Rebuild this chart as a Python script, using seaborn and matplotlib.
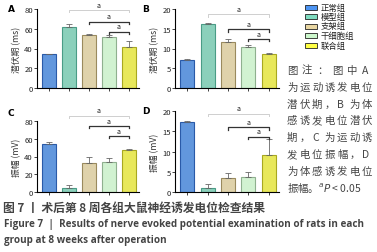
import numpy as np
import pandas as pd
import matplotlib
matplotlib.use("Agg")
import matplotlib.pyplot as plt
import seaborn as sns

groups = ["正常组", "模型组", "支架组", "干细胞组", "联合组"]
colors = ["#4d94f2", "#7fdcc0", "#e8d6a2", "#ccf7cc", "#ffff44"]
edges = ["#2a5aa8", "#4a9c86", "#9a8a5e", "#8fb08f", "#a8a820"]

lat_motor = [34, 62, 54, 52, 42]
lat_motor_err = [0.8, 2.5, 0.6, 1.2, 6]
lat_sens = [7.2, 16.1, 11.7, 10.4, 8.5]
lat_sens_err = [0.2, 0.4, 0.6, 0.4, 0.3]
amp_motor = [54, 5, 33, 34, 47]
amp_motor_err = [2, 3, 7, 4, 2]
amp_sens = [17.4, 1.0, 3.5, 3.7, 9.2]
amp_sens_err = [0.2, 1.0, 1.2, 1.3, 3.8]

panels = ["A", "B", "C", "D"]
ylabels = ["潜伏期 (ms)", "潜伏期 (ms)", "振幅 (mV)", "振幅 (mV)"]
ymax = [80, 20, 80, 20]
yticks = [[0, 20, 40, 60, 80], [0, 5, 10, 15, 20], [0, 20, 40, 60, 80], [0, 5, 10, 15, 20]]
values = [lat_motor, lat_sens, amp_motor, amp_sens]
errors = [lat_motor_err, lat_sens_err, amp_motor_err, amp_sens_err]
# bracket heights (top, middle, lower)
brackets = [[79, 67, 57], [18.7, 14.9, 12.4], [86, 74, 63], [19.3, 16, 13.7]]

plt.rcParams["font.family"] = ["Noto Sans CJK SC", "DejaVu Sans"]

W, H = 377, 253
fig = plt.figure(figsize=(W / 100, H / 100), dpi=100)

# pixel boxes: left, top, right, bottom
boxes = [(37, 10, 139, 89), (175, 10, 279, 89), (37, 122, 139, 193), (175, 112, 279, 193)]
letter_pos = [(8, 9), (142, 9), (8, 114), (142, 112)]

for i in range(4):
    l, t, r, b = boxes[i]
    ax = fig.add_axes([l / W, 1 - b / H, (r - l) / W, (b - t) / H])
    df = pd.DataFrame({"group": groups, "value": values[i]})
    sns.barplot(ax=ax, data=df, x="group", y="value", hue="group", palette=colors,
                width=0.68, errorbar=None, legend=False, linewidth=0.8)
    for p, ec in zip(ax.patches, edges):
        p.set_edgecolor(ec)
    ax.errorbar(range(5), values[i], yerr=[np.zeros(5), errors[i]], fmt="none",
                ecolor="#666666", elinewidth=0.6, capsize=2, capthick=0.6)
    ax.set_ylim(0, ymax[i])
    ax.set_xlim(-0.6, 4.5)
    ax.set_yticks(yticks[i])
    ax.set_xticks(range(5))
    ax.set_xticklabels([])
    ax.tick_params(axis="y", labelsize=5.5, length=2, width=0.6, pad=1, colors="#222222")
    ax.tick_params(axis="x", length=2, width=0.6, colors="#222222")
    ax.set_ylabel(ylabels[i], fontsize=6.3, labelpad=2, color="#333333")
    ax.set_xlabel("")
    for s in ["top", "right"]:
        ax.spines[s].set_visible(False)
    for s in ["left", "bottom"]:
        ax.spines[s].set_linewidth(0.8)
    ax.patch.set_alpha(0)

    # significance brackets
    h1, h2, h3 = brackets[i]
    dh = ymax[i] * 0.03
    for (x0, x1, y, col, lw) in [(1, 4, h1, "#cfcfcf", 0.7), (2, 4, h2, "#333333", 0.9),
                                 (3, 4, h3, "#333333", 0.9)]:
        ax.plot([x0, x0, x1, x1], [y - dh, y, y, y - dh], color=col, lw=lw, clip_on=False)
        ax.text((x0 + x1) / 2, y + dh * 0.6, "a", ha="center", va="bottom", fontsize=5,
                color="#222222", clip_on=False)

    fig.text(letter_pos[i][0] / W, 1 - letter_pos[i][1] / H, panels[i], fontsize=6.5,
             fontweight="bold", va="center", ha="left", family="DejaVu Sans")

# legend
for k in range(5):
    y = 8 + k * 9.5
    fig.patches.append(plt.Rectangle((305 / W, 1 - (y + 2.5) / H), 12 / W, 5 / H,
                                     transform=fig.transFigure, facecolor=colors[k],
                                     edgecolor="#222222", linewidth=0.6))
    fig.text(321 / W, 1 - y / H, groups[k], fontsize=6, va="center", ha="left", color="#222222")

# note text, justified between x=287 and x=372
note_lines = ["图 注： 图 中 A", "为运动诱发电位", "潜 伏 期， B 为 体", "感诱发电位潜伏",
              "期， C 为运动诱", "发 电 位 振 幅， D", "为体感诱发电位"]
for k, line in enumerate(note_lines):
    toks = list(line.replace(" ", ""))
    n = len(toks)
    y = 1 - (71 + k * 16.8) / H
    for j, ch in enumerate(toks):
        x = 287 + j * (85 - 10) / (n - 1)
        fig.text(x / W, y, ch, fontsize=7.5, va="center", ha="left", color="#444444")
fig.text(287 / W, 1 - (71 + 7 * 16.8) / H, "振幅。$^{a}$$P$ < 0.05", fontsize=7.5,
         va="center", ha="left", color="#444444")

fig.text(3 / W, 1 - 208 / H, "图 7 丨 术后第 8 周各组大鼠神经诱发电位检查结果", fontsize=8.5,
         va="center", ha="left", color="#444444", fontweight="bold")
fig.text(4 / W, 1 - 224.5 / H, "Figure 7  |  Results of nerve evoked potential examination of rats in each",
         fontsize=7.1, va="center", ha="left", color="#444444", family="Open Sans", fontweight="bold")
fig.text(4 / W, 1 - 240.5 / H, "group at 8 weeks after operation",
         fontsize=7.1, va="center", ha="left", color="#444444", family="Open Sans", fontweight="bold")

fig.savefig("out.png", dpi=100)
